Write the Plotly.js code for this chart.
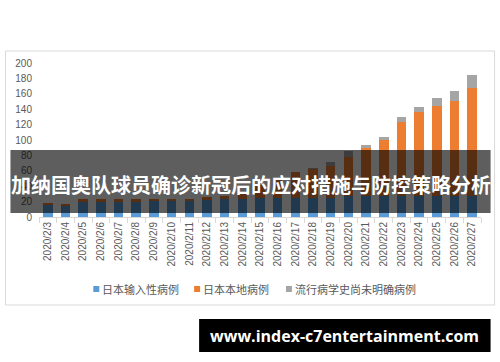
<!DOCTYPE html>
<html>
<head>
<meta charset="utf-8">
<script src="https://cdn.plot.ly/plotly-3.0.1.min.js"></script>
<style>
html,body{margin:0;padding:0;background:#fff;}
#chart{width:500px;height:362px;}
</style>
</head>
<body>
<div id="chart"></div>
<script>
const dates = ["2020/2/3","2020/2/4","2020/2/5","2020/2/6","2020/2/7","2020/2/8","2020/2/9","2020/2/10","2020/2/11","2020/2/12","2020/2/13","2020/2/14","2020/2/15","2020/2/16","2020/2/17","2020/2/18","2020/2/19","2020/2/20","2020/2/21","2020/2/22","2020/2/23","2020/2/24","2020/2/25","2020/2/26","2020/2/27"];
const imported = [15,14,20,20,20,20,21,21,21,22,23,24,25,25,25,25,25,27,27,27,27,27,27,27,27];
const local    = [3,3,3,3,3,3,3,3,3,4,4,9,16,25,33,37,41,51,62,73,97,110,117,124,140];
const unknown  = [0,0,0,0,0,0,0,0,0,0,0,0,0,0,0,1,5,8,4,4,6,6,11,13,18];
const seriesNames = ["日本输入性病例","日本本地病例","流行病学史尚未明确病例"];
const seriesColors = ["#5B9BD5","#ED7D31","#A5A5A5"];
const yTicks = [0,20,40,60,80,100,120,140,160,180,200];
const bannerText = "加纳国奥队球员确诊新冠后的应对措施与防控策略分析";
const watermarkText = "www.index-c7entertainment.com";

// layout geometry (pixels)
const L = 38.6, R = 481.4, T = 63, B = 217;
const px = x => (x - L) / (R - L);
const py = y => (B - y) / (B - T);

const seriesValues = [imported, local, unknown];
const traces = seriesValues.map((vals, i) => ({
  type:"bar", name:seriesNames[i], x:dates, y:vals, marker:{color:seriesColors[i]}, showlegend:false
}));

// custom legend (small square + text) like the reference
const legendX = [93, 194, 286];
const legendY = 289;
const legendShapes = seriesNames.map((n, i) => ({
  type:"rect", xref:"paper", yref:"paper",
  x0:px(legendX[i]), x1:px(legendX[i] + 6), y0:py(legendY + 3), y1:py(legendY - 3),
  line:{width:0}, fillcolor:seriesColors[i], layer:"above"
}));
const legendAnn = seriesNames.map((n, i) => ({
  xref:"paper", yref:"paper", x:px(legendX[i] + 7), y:py(legendY), xanchor:"left", yanchor:"middle",
  text:n, showarrow:false,
  font:{family:"'Noto Sans CJK SC', sans-serif", size:11, color:"#595959"}
}));

const layout = {
  width:500, height:362,
  margin:{l:L, r:500-R, t:T, b:362-B, pad:0},
  paper_bgcolor:"#fff", plot_bgcolor:"#fff",
  barmode:"stack", bargap:0.46,
  font:{family:"'Liberation Sans', Arial, sans-serif", color:"#595959", size:10},
  xaxis:{type:"category", tickangle:-90, showgrid:false, showline:true, linecolor:"#d9d9d9", linewidth:1,
         ticks:"outside", tickson:"boundaries", ticklen:5, tickcolor:"#d9d9d9",
         tickfont:{size:10, color:"#595959"}, fixedrange:true},
  yaxis:{range:[0,200], tickvals:yTicks, showgrid:false, zeroline:false, showline:false,
         ticks:"", ticklabelstandoff:6, tickfont:{size:10, color:"#595959"}, fixedrange:true},
  showlegend:false,
  shapes:[
    {type:"rect", xref:"paper", yref:"paper", x0:px(5), x1:px(495), y0:py(305), y1:py(51),
     line:{color:"#d9d9d9", width:1}, fillcolor:"rgba(0,0,0,0)", layer:"below"},
    {type:"rect", xref:"paper", yref:"paper", x0:px(10), x1:px(491), y0:py(213), y1:py(150),
     line:{width:0}, fillcolor:"rgba(0,0,0,0.63)", layer:"above"},
    {type:"rect", xref:"paper", yref:"paper", x0:px(199), x1:px(491), y0:py(352), y1:py(319),
     line:{width:0}, fillcolor:"#000", layer:"above"}
  ].concat(legendShapes),
  annotations:[
    {xref:"paper", yref:"paper", x:px(250.5), y:py(184), xanchor:"center", yanchor:"middle",
     text:"<b>"+bannerText+"</b>", showarrow:false,
     font:{family:"'Noto Sans CJK SC', sans-serif", size:20, color:"#fff"}},
    {xref:"paper", yref:"paper", x:px(345), y:py(335.5), xanchor:"center", yanchor:"middle",
     text:"<b>"+watermarkText+"</b>", showarrow:false,
     font:{family:"'Open Sans', sans-serif", size:16, color:"#fff"}}
  ].concat(legendAnn)
};

Plotly.newPlot("chart", traces, layout, {staticPlot:true, displayModeBar:false});
</script>
</body>
</html>
